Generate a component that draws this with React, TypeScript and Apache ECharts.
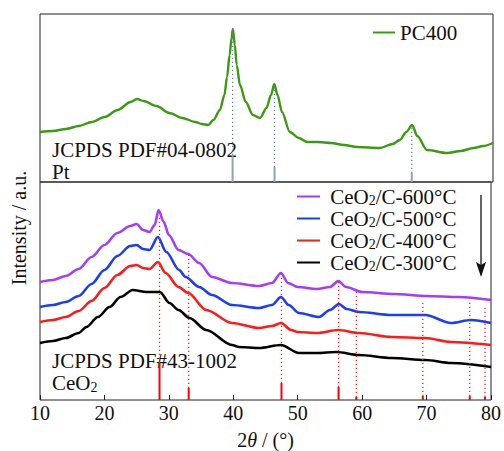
import React, { useEffect, useRef } from 'react';
import * as echarts from 'echarts';

const FONT = 'Times New Roman, Liberation Serif, Times, DejaVu Serif, serif';

// ---- data (2θ in degrees, intensity in arbitrary units) ----
const pc400: [number, number][] = [
  [10, 50], [12, 51], [14, 53], [16, 56], [18, 60], [20, 65], [22, 72], [24, 80], [25, 83],
  [26, 81], [28, 76], [30, 69], [32, 64], [34, 60], [35, 58], [36, 57], [36.8, 62], [37.8, 72],
  [38.5, 87], [38.9, 105], [39.3, 127], [39.6, 144], [39.8, 153], [40.1, 137], [40.4, 117],
  [40.9, 97], [41.8, 80], [42.9, 67], [44, 64], [45, 74], [45.7, 87], [46.2, 98], [46.7, 87],
  [47.4, 70], [48.6, 50], [50, 44], [51.3, 40], [53, 40], [55, 39], [57, 37], [59, 35],
  [62.5, 34], [64.5, 38], [65.6, 42], [66.6, 50], [67.5, 57], [68.3, 46], [69.8, 32],
  [72.9, 29], [75, 31], [77, 34], [78.5, 36], [80, 39],
];

const ceo2_600: [number, number][] = [
  [10, 118], [12, 120], [14, 124], [16, 131], [18, 143], [20, 155], [22, 167], [24, 174],
  [25, 176], [26, 170], [27, 168], [27.8, 175], [28.4, 190], [29.2, 178], [30, 165],
  [31.5, 150], [33, 146], [34.7, 137], [36.7, 123], [39.8, 117], [44, 114], [46, 117],
  [47.4, 127], [48.5, 117], [50, 113], [53, 111], [55, 113], [56.3, 119], [57.5, 113],
  [60, 108], [65, 106], [70, 104], [75, 103], [80, 100],
];

const ceo2_500: [number, number][] = [
  [10, 93], [12, 95], [14, 98], [16, 104], [18, 116], [20, 130], [22, 144], [24, 154],
  [25, 155], [26, 151], [27, 150], [28.3, 163], [29.6, 148], [31.6, 130], [32.6, 123],
  [34.7, 113], [36.7, 105], [39.8, 95], [44, 92], [46, 95], [47.4, 103], [48.6, 95],
  [50.2, 87], [53.3, 83], [55, 90], [56.4, 96], [57.6, 91], [59.5, 88], [64.6, 85],
  [69.8, 85], [73.8, 77], [76.9, 80], [80, 77],
];

const ceo2_400: [number, number][] = [
  [10, 78], [12, 80], [14, 83], [16, 89], [18, 99], [20, 112], [22, 125], [24, 134],
  [25, 135], [26, 132], [27, 131], [28.3, 138], [29.5, 127], [31.5, 113], [33, 107],
  [35.8, 90], [39.8, 77], [44, 72], [46, 74], [47.4, 77], [49, 70], [50, 68], [53, 67],
  [56.3, 70], [59.5, 67], [64.6, 63], [69.8, 62], [73.8, 58], [80, 55],
];

const ceo2_300: [number, number][] = [
  [10, 57], [12, 59], [14, 62], [16, 67], [17.2, 73], [19, 83], [20.8, 93], [22.5, 103],
  [24.4, 110], [26.5, 108], [28.6, 108], [30.1, 97], [31.5, 90], [33.2, 82], [35.8, 70],
  [39.8, 55], [40.9, 53], [44, 52], [47.4, 55], [50.2, 47], [53, 47], [56, 48], [59.5, 45],
  [64.6, 42], [69.8, 40], [73.8, 37], [80, 33],
];

// reference patterns: position, stick height, top of dotted guide
const ptRefPos = [39.76, 46.24, 67.45];
const ptRefHeight = [27, 15, 9];
const ptRefTop = [153, 98, 57];

const ceo2RefPos = [28.55, 33.08, 47.48, 56.34, 59.09, 69.42, 76.7, 79.07];
const ceo2RefHeight = [37, 12, 17, 13, 3, 4, 4, 3];
const ceo2RefTop = [183, 145, 127, 119, 108, 97, 100, 93];

const xTicks = [10, 20, 30, 40, 50, 60, 70, 80];

const seriesNames = ['CeO2/C-600°C', 'CeO2/C-500°C', 'CeO2/C-400°C', 'CeO2/C-300°C'];
const seriesColors = ['#a23cff', '#1a3cff', '#ff1a1a', '#000000'];

function refSeries(pos: number[], h: number[], top: number[], color: string, dotColor: string, idx: number) {
  return {
    type: 'custom',
    xAxisIndex: idx,
    yAxisIndex: idx,
    z: 5,
    silent: true,
    data: pos.map((p, i) => [p, h[i], top[i]]),
    renderItem: (_params: any, api: any) => {
      const x = api.value(0);
      const hh = api.value(1);
      const t = api.value(2);
      const p0 = api.coord([x, 0]);
      const p1 = api.coord([x, hh]);
      const p2 = api.coord([x, t]);
      return {
        type: 'group',
        children: [
          {
            type: 'line',
            shape: { x1: p0[0], y1: p0[1], x2: p1[0], y2: p1[1] },
            style: { stroke: color, lineWidth: 2 },
          },
          {
            type: 'line',
            shape: { x1: p1[0], y1: p1[1], x2: p2[0], y2: p2[1] },
            style: { stroke: dotColor, lineWidth: 1.3, lineDash: [1.3, 2.7] },
          },
        ],
      };
    },
  };
}

const richText = {
  a: { fontFamily: FONT, fontSize: 21, color: '#111', lineHeight: 22 },
  sub: { fontFamily: FONT, fontSize: 14, color: '#111', lineHeight: 10, verticalAlign: 'bottom' },
};

function subFormat(name: string) {
  const idx = name.indexOf('O2');
  if (idx < 0) return '{a| ' + name + '}';
  return '{a| ' + name.slice(0, idx + 1) + '}{sub|2}{a|' + name.slice(idx + 2) + '}';
}

export default function App() {
  const ref = useRef<HTMLDivElement>(null);
  useEffect(() => {
    if (!ref.current) return;
    const chart = echarts.init(ref.current, undefined, { renderer: 'svg' });
    const txt = (text: string, x: number, y: number, size: number) => ({
      type: 'text', x, y,
      style: { text, fontFamily: FONT, fontSize: size, fill: '#111', verticalAlign: 'middle' },
    });
    const option: any = {
      animation: false,
      backgroundColor: '#fff',
      textStyle: { fontFamily: FONT },
      grid: [
        { left: 40, right: 11, top: 14, height: 168, show: true, borderColor: '#222', borderWidth: 1 },
        { left: 40, right: 11, top: 182, height: 218, show: true, borderColor: '#222', borderWidth: 1 },
      ],
      xAxis: [
        {
          type: 'value', gridIndex: 0, min: 10, max: 80, interval: 10,
          axisLine: { show: false }, axisTick: { show: false }, axisLabel: { show: false },
          splitLine: { show: false },
        },
        {
          type: 'value', gridIndex: 1, min: 10, max: 80, interval: 10,
          axisLine: { show: false },
          axisTick: { show: true, inside: true, length: 5, lineStyle: { color: '#222', width: 1 } },
          axisLabel: {
            fontFamily: FONT, fontSize: 20, color: '#111', margin: 3,
            formatter: (v: number) => (xTicks.includes(v) ? String(v) : ''),
          },
          splitLine: { show: false },
          name: '{n|2}{i|θ}{n| / (°)}',
          nameLocation: 'middle',
          nameGap: 30,
          nameTextStyle: {
            fontFamily: FONT,
            rich: {
              n: { fontFamily: FONT, fontSize: 20, color: '#111' },
              i: { fontFamily: FONT, fontSize: 20, color: '#111', fontStyle: 'italic' },
            },
          },
        },
      ],
      yAxis: [
        {
          type: 'value', gridIndex: 0, min: 0, max: 168,
          axisLine: { show: false }, axisTick: { show: false }, axisLabel: { show: false },
          splitLine: { show: false },
        },
        {
          type: 'value', gridIndex: 1, min: 0, max: 218,
          axisLine: { show: false }, axisTick: { show: false }, axisLabel: { show: false },
          splitLine: { show: false },
        },
      ],
      legend: [
        {
          data: ['PC400'],
          left: 368, top: 17,
          icon: 'rect', itemWidth: 22, itemHeight: 2,
          selectedMode: false,
          formatter: (n: string) => '{a|' + n + '}',
          textStyle: { fontFamily: FONT, rich: richText },
        },
        {
          data: seriesNames,
          orient: 'vertical',
          left: 292, top: 181,
          icon: 'rect', itemWidth: 23, itemHeight: 2, itemGap: 0.5,
          selectedMode: false,
          formatter: (n: string) => subFormat(n),
          textStyle: { fontFamily: FONT, rich: richText },
        },
      ],
      series: [
        {
          name: 'PC400', type: 'line', xAxisIndex: 0, yAxisIndex: 0, data: pc400,
          showSymbol: false, smooth: 0.3, smoothMonotone: 'x', color: '#3a9a10',
          lineStyle: { width: 2.4, color: '#3a9a10' },
        },
        ...[ceo2_600, ceo2_500, ceo2_400, ceo2_300].map((d, i) => ({
          name: seriesNames[i], type: 'line', xAxisIndex: 1, yAxisIndex: 1, data: d,
          showSymbol: false, smooth: 0.3, smoothMonotone: 'x', color: seriesColors[i],
          lineStyle: { width: 2.6, color: seriesColors[i] },
        })),
        refSeries(ptRefPos, ptRefHeight, ptRefTop, '#8fa3b3', '#6f8090', 0),
        refSeries(ceo2RefPos, ceo2RefHeight, ceo2RefTop, '#ff0000', '#ff2020', 1),
      ],
      graphic: [
        {
          type: 'text', x: 19, y: 228, rotation: Math.PI / 2,
          style: {
            text: 'Intensity / a.u.', fontFamily: FONT, fontSize: 20, fill: '#111',
            align: 'center', verticalAlign: 'middle',
          },
        },
        txt('JCPDS PDF#04-0802', 52, 150, 21),
        txt('Pt', 52, 172, 21),
        txt('JCPDS PDF#43-1002', 52, 361, 21),
        {
          type: 'text', x: 52, y: 383,
          style: {
            text: '{a|CeO}{s|2}',
            verticalAlign: 'middle',
            fontFamily: FONT,
            rich: {
              a: { fontFamily: FONT, fontSize: 21, fill: '#111', lineHeight: 22 },
              s: { fontFamily: FONT, fontSize: 14, fill: '#111', lineHeight: 10, verticalAlign: 'bottom' },
            },
          },
        },
        {
          type: 'line', shape: { x1: 481, y1: 195, x2: 481, y2: 266 },
          style: { stroke: '#111', lineWidth: 1.3 },
        },
        {
          type: 'polygon', shape: { points: [[476, 262], [481, 265], [486, 262], [481, 277]] },
          style: { fill: '#111' },
        },
      ],
    };
    chart.setOption(option);
    return () => chart.dispose();
  }, []);
  return <div ref={ref} style={{ width: 504, height: 451, position: 'absolute', left: 0, top: 0 }} />;
}
